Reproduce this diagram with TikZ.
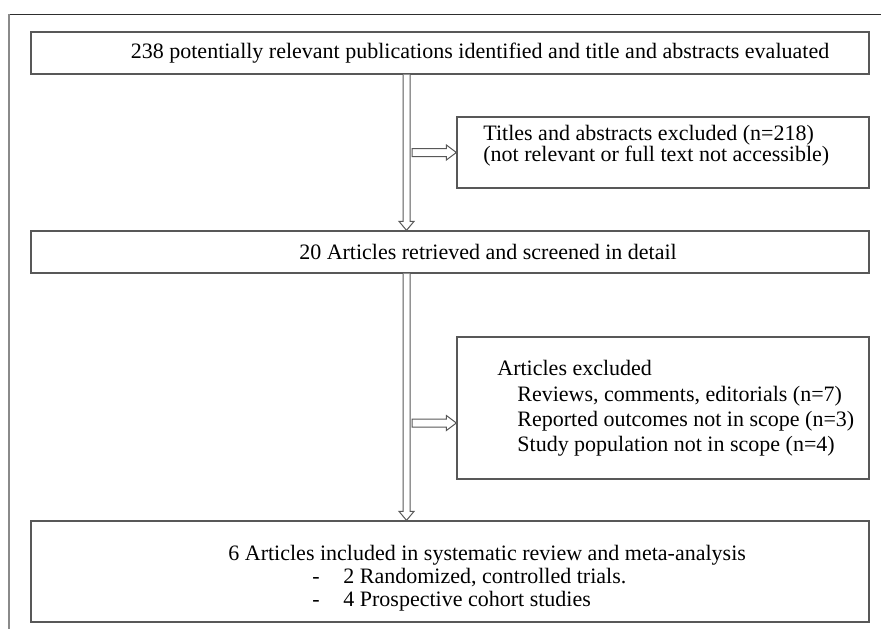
\documentclass[tikz,border=0pt]{standalone}
\usepackage{fontspec}
\setmainfont{Liberation Serif}
\usepackage{xcolor}
\usepackage{tikz}
\usetikzlibrary{calc,shadows}
\definecolor{prsline}{HTML}{585858}
\definecolor{prsframe}{HTML}{2E2E2E}
\definecolor{prsside}{HTML}{8A8A8A}
\definecolor{prsshade}{HTML}{9A9A9A}

\tikzset{
  stagebox/.style={draw=prsline, line width=0.65pt, fill=white, inner sep=0pt,
    drop shadow={shadow xshift=0.6pt, shadow yshift=-0.7pt, opacity=0.45, fill=prsshade}},
  stagetext/.style={inner sep=0pt, font=\fontsize{11}{12}\selectfont},
  hollowdown/.style={draw=prsline, fill=white, line width=0.5pt, line join=miter,
    to path={let \p1=(\tikztostart), \p2=(\tikztotarget) in
      (\x1-1.75pt,\y1) -- (\x1-1.75pt,\y2+4.5pt) -- (\x1-3.75pt,\y2+4.5pt) -- (\x1,\y2)
      -- (\x1+3.75pt,\y2+4.5pt) -- (\x1+1.75pt,\y2+4.5pt) -- (\x1+1.75pt,\y1)}},
  hollowright/.style={draw=prsline, fill=white, line width=0.5pt, line join=miter,
    to path={let \p1=(\tikztostart), \p2=(\tikztotarget) in
      (\x1,\y1+2pt) -- (\x2-5pt,\y1+2pt) -- (\x2-5pt,\y1+3.75pt) -- (\x2,\y1)
      -- (\x2-5pt,\y1-3.75pt) -- (\x2-5pt,\y1-2pt) -- (\x1,\y1-2pt) -- cycle}}
}

\begin{document}
\begin{tikzpicture}[x=0.5pt, y=-0.5pt]
  \useasboundingbox (0,0) rectangle (881,629);

  % Page frame
  \draw[prsframe, line width=0.5pt] (9,14) -- (881,14);
  \draw[prsside, line width=0.8pt] (9,14) -- (9,629);

  % Main stages
  \node[stagebox, minimum width=419pt, minimum height=21pt] (ident) at (450,53) {};
  \node[stagetext] (identtxt) at (480,53)
    {238 potentially relevant publications identified and title and abstracts evaluated};

  \node[stagebox, minimum width=419pt, minimum height=21pt] (screen) at (450,252) {};
  \node[stagetext] (screentxt) at (488,252) {20 Articles retrieved and screened in detail};

  \node[stagebox, minimum width=419pt, minimum height=50.5pt] (incl) at (450,571.5) {};
  \node[stagetext, anchor=west, align=left, font=\fontsize{11}{11.5}\selectfont] (incltxt) at (228,578)
    {6 Articles included in systematic review and meta-analysis\\
     \hspace*{42pt}\makebox[15.5pt][l]{-}2 Randomized, controlled trials.\\
     \hspace*{42pt}\makebox[15.5pt][l]{-}4 Prospective cohort studies};

  % Exclusion boxes
  \node[stagebox, minimum width=206pt, minimum height=35.5pt] (excl1) at (663,152.5) {};
  \node[stagetext, anchor=west, align=left, font=\fontsize{11}{10.5}\selectfont] (excl1txt) at (483,146)
    {Titles and abstracts excluded (n=218)\\
     (not relevant or full text not accessible)};

  \node[stagebox, minimum width=206pt, minimum height=71pt] (excl2) at (663,408) {};
  \node[stagetext, anchor=west, align=left, font=\fontsize{11}{12.6}\selectfont] (excl2txt) at (497,408.5)
    {Articles excluded\\
     \hspace*{10pt}Reviews, comments, editorials (n=7)\\
     \hspace*{10pt}Reported outcomes not in scope (n=3)\\
     \hspace*{10pt}Study population not in scope (n=4)};

  % Flow arrows
  \coordinate (trunk) at (406.5,0);
  \coordinate (tap1) at (412,152.5);
  \coordinate (tap2) at (412,423);
  \draw[hollowdown] (ident.south -| trunk) to (screen.north -| trunk);
  \draw[hollowdown] (screen.south -| trunk) to (incl.north -| trunk);
  \draw[hollowright] (tap1) to (excl1.west);
  \draw[hollowright] (tap2) to (tap2 -| excl2.west);
\end{tikzpicture}
\end{document}
